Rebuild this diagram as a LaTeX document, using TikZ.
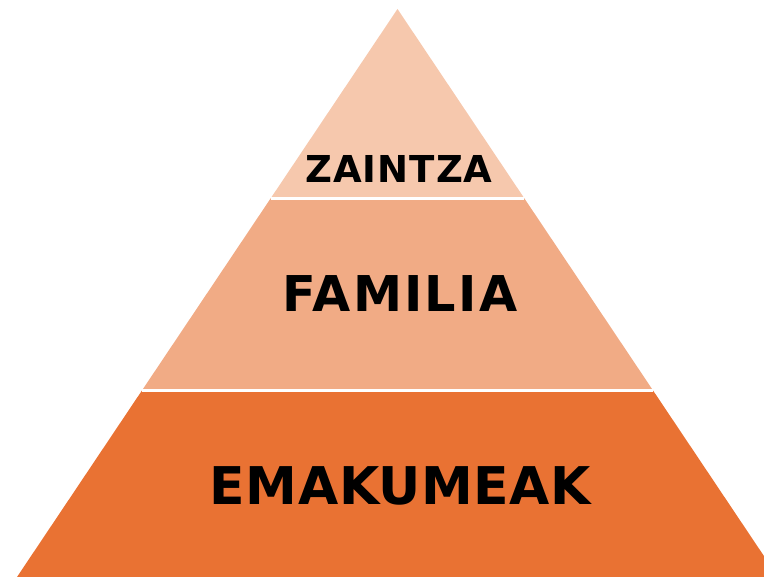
\documentclass[tikz,border=0pt]{standalone}
\usepackage{fontspec}
\setmainfont{DejaVu Sans}
\usepackage{tikz}
\usetikzlibrary{calc}
\definecolor{topband}{HTML}{F6C8AD}
\definecolor{midband}{HTML}{F1AB85}
\definecolor{lowband}{HTML}{E97233}

\begin{document}
\begin{tikzpicture}[ x=0.75pt, y=-0.75pt,
      band/.style={ draw=none},
      gap line/.style={ white, line width=2.6pt},
      layer label/.style={ inner sep=0pt, text=black, font=\bfseries}
      ]
      \useasboundingbox (0,0) rectangle (764,577);
      \clip (0,0) rectangle (764,577);

      % pyramid corners
      \coordinate (Apex)  at (397.5,9);
      \coordinate (BaseL) at (17,577);
      \coordinate (BaseR) at (778,577);
      \coordinate (UpL)   at ($(Apex)!0.3336!(BaseL)$);
      \coordinate (UpR)   at ($(Apex)!0.3336!(BaseR)$);
      \coordinate (LowL)  at ($(Apex)!0.6717!(BaseL)$);
      \coordinate (LowR)  at ($(Apex)!0.6717!(BaseR)$);

      % bands
      \fill[band, topband] (Apex) -- (UpR) -- (UpL) -- cycle;
      \fill[band, midband] (UpL) -- (UpR) -- (LowR) -- (LowL) -- cycle;
      \fill[band, lowband] (LowL) -- (LowR) -- (BaseR) -- (BaseL) -- cycle;
      \draw[gap line] (UpL) -- (UpR);
      \draw[gap line] (LowL) -- (LowR);

      % labels
      \node[layer label, font=\fontsize{27.8}{30}\selectfont\bfseries\addfontfeature{LetterSpace=2.7}] (Zaintza) at (399,168.5) {ZAINTZA};
      \node[layer label, font=\fontsize{37}{40}\selectfont\bfseries\addfontfeature{LetterSpace=4.4}] (Familia) at (400,294) {FAMILIA};
      \node[layer label, font=\fontsize{39}{42}\selectfont\bfseries\addfontfeature{LetterSpace=1}] (Emakumeak) at (400.5,486) {EMAKUMEAK};
    \end{tikzpicture}
\end{document}
